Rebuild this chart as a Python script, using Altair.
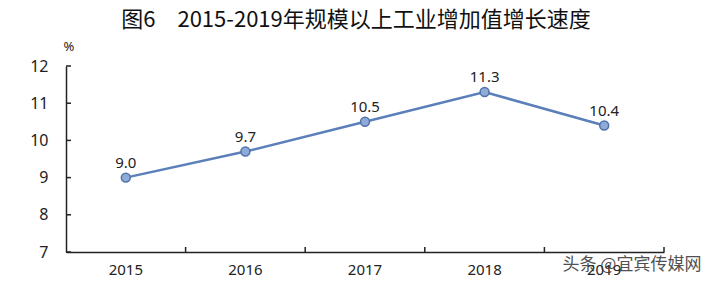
import altair as alt
import pandas as pd

years = ["2015", "2016", "2017", "2018", "2019"]
growth = [9.0, 9.7, 10.5, 11.3, 10.4]
labels = ["9.0", "9.7", "10.5", "11.3", "10.4"]
y_ticks = [7, 8, 9, 10, 11, 12]
title_text = "图6　2015-2019年规模以上工业增加值增长速度"
unit_text = "%"
watermark = "头条 @宜宾传媒网"

W, H = 598, 186
FONT = "Noto Sans"

df = pd.DataFrame({"year": years, "v": growth, "lab": labels})
df_ticks = pd.DataFrame({"v": y_ticks})

xscale = alt.Scale(type="band", paddingInner=0, paddingOuter=0)
yscale = alt.Scale(domain=[7, 12], nice=False, zero=False)

xaxis = alt.Axis(title=None, labelAngle=0, ticks=False, domainColor="#222",
                 domainWidth=1.5, labelFontSize=15, labelFont=FONT,
                 labelColor="#222", labelPadding=10, labelOverlap=False)
yaxis = alt.Axis(title=None, values=y_ticks, grid=False, ticks=False,
                 domainColor="#222", domainWidth=1.5, labelFontSize=16,
                 labelFont=FONT, labelColor="#222", labelPadding=18,
                 labelOverlap=False)

xenc = alt.X("year:N", scale=xscale, bandPosition=0.5, axis=xaxis)
yenc = alt.Y("v:Q", scale=yscale, axis=yaxis)

base = alt.Chart(df)
line = base.mark_line(color="#5b80b9", strokeWidth=2.5).encode(x=xenc, y=yenc)
pts = base.mark_point(filled=True, size=80, fill="#8eaad8", stroke="#5072ad",
                      strokeWidth=1.5, opacity=1).encode(x=xenc, y=yenc)
txt = base.mark_text(dy=-15, fontSize=15, font=FONT, color="#222").encode(
    x=xenc, y=yenc, text="lab:N")

yt = alt.Chart(df_ticks).mark_rule(color="#222", strokeWidth=1.5).encode(
    y=alt.Y("v:Q", scale=yscale, axis=yaxis), x=alt.value(0), x2=alt.value(5))
xt = base.mark_rule(color="#222", strokeWidth=1.5).encode(
    x=alt.X("year:N", scale=xscale, bandPosition=1, axis=xaxis),
    y=alt.value(H - 5), y2=alt.value(H))

title = alt.Chart(pd.DataFrame({"t": [title_text]})).mark_text(
    fontSize=22, font="Noto Sans CJK SC", color="#111", baseline="middle", align="center"
).encode(x=alt.value(290), y=alt.value(-46), text="t:N")
unit = alt.Chart(pd.DataFrame({"t": [unit_text]})).mark_text(
    fontSize=13, font=FONT, color="#222", baseline="middle", align="center"
).encode(x=alt.value(3), y=alt.value(-19), text="t:N")
wm = alt.Chart(pd.DataFrame({"t": [watermark]})).mark_text(
    fontSize=17, font="Noto Sans CJK SC", color="#333", baseline="middle", align="center",
    opacity=0.85
).encode(x=alt.value(566), y=alt.value(199), text="t:N")

chart = alt.layer(line, pts, txt, yt, xt, title, unit, wm).properties(
    width=W, height=H, autosize="none",
    padding={"left": 66, "top": 66, "right": 56, "bottom": 32},
    background="white",
).configure_view(stroke=None)

chart.save("out.html", embed_options={"renderer": "svg", "actions": False})
